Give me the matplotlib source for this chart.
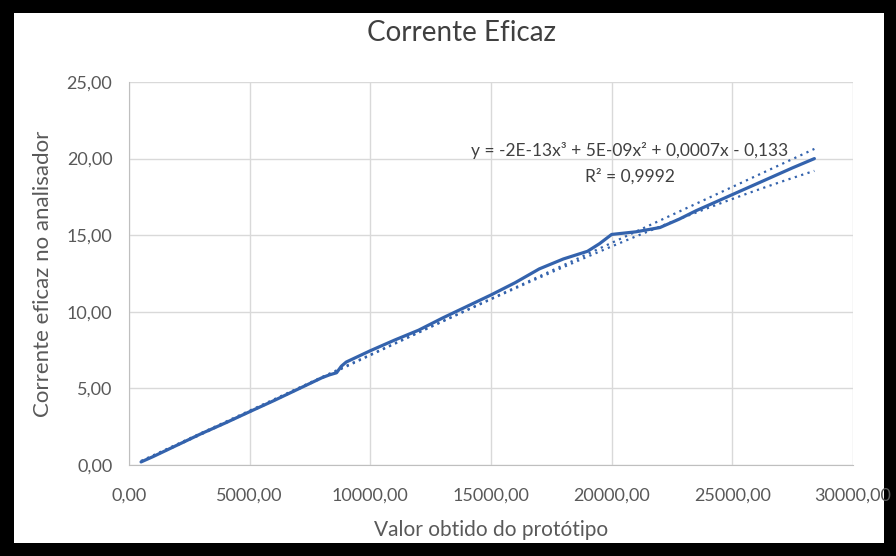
import numpy as np
import matplotlib
matplotlib.use('Agg')
import matplotlib.pyplot as plt
from matplotlib.patches import Rectangle
from matplotlib.ticker import FuncFormatter

# Dados (valor do protótipo x corrente eficaz)
prototipo = [500, 1000, 2000, 3000, 4000, 5000, 6000, 7000, 8000, 8300,
             8600, 8800, 9000, 10000, 11000, 12000, 13000, 14000, 15000,
             16000, 17000, 18000, 19000, 19500, 20000, 21000, 22000, 22800,
             23500, 24500, 25500, 26500, 27500, 28400]
corrente = [0.2, 0.55, 1.3, 2.05, 2.75, 3.48, 4.2, 4.95, 5.7, 5.88,
            6.02, 6.45, 6.72, 7.46, 8.15, 8.8, 9.6, 10.35, 11.1,
            11.9, 12.8, 13.45, 13.95, 14.45, 15.05, 15.22, 15.5, 16.05,
            16.6, 17.3, 18.0, 18.7, 19.4, 20.0]

# Linhas de tendência (coeficientes)
coef_poli = [-2e-13, 5e-09, 0.0007, -0.133]   # polinomial de grau 3 (rótulo)
coef_linear = [0.00073, -0.1]                  # linear

x_ticks = [0, 5000, 10000, 15000, 20000, 25000, 30000]
y_ticks = [0, 5, 10, 15, 20, 25]

AZUL = '#3463ad'
CINZA = '#595959'

plt.rcParams['font.family'] = ['Lato', 'DejaVu Sans']


def virgula(v, pos=None):
    return f"{v:.2f}".replace('.', ',')


def main():
    fig = plt.figure(figsize=(8.96, 5.56), dpi=100, facecolor='black')
    # fundo branco dentro da moldura preta
    fig.patches.append(Rectangle((14 / 896, 13 / 556), 870 / 896, 530 / 556,
                                 transform=fig.transFigure, facecolor='white',
                                 edgecolor='none', zorder=-10))
    ax = fig.add_axes([129 / 896, 1 - 465 / 556, 724 / 896, 383 / 556])

    xs = np.linspace(prototipo[0], prototipo[-1], 200)
    ax.plot(xs, np.polyval(coef_linear, xs), color=AZUL, linestyle=(0, (1, 2)),
            linewidth=1.6)
    ax.plot(xs, np.polyval(coef_poli, xs), color=AZUL, linestyle=(0, (1, 2)),
            linewidth=1.6)
    ax.plot(prototipo, corrente, color=AZUL, linewidth=2.3, solid_capstyle='round')

    ax.set_xlim(0, 30000)
    ax.set_ylim(0, 25)
    ax.set_xticks(x_ticks)
    ax.set_yticks(y_ticks)
    ax.xaxis.set_major_formatter(FuncFormatter(virgula))
    ax.yaxis.set_major_formatter(FuncFormatter(virgula))
    ax.tick_params(length=0, labelsize=13, colors=CINZA)
    ax.tick_params(axis='x', pad=16)
    ax.tick_params(axis='y', pad=12)
    ax.grid(True, color='#d9d9d9', linewidth=1)
    ax.set_axisbelow(True)
    for lado in ['top', 'right']:
        ax.spines[lado].set_visible(False)
    for lado in ['left', 'bottom']:
        ax.spines[lado].set_color('#bfbfbf')

    ax.set_xlabel('Valor obtido do protótipo', fontsize=15, color=CINZA, labelpad=12)
    ax.set_ylabel('Corrente eficaz no analisador', fontsize=16, color=CINZA, labelpad=10)

    ax.text(20760, 19.7, 'y = -2E-13x³ + 5E-09x² + 0,0007x - 0,133\nR² = 0,9992',
            ha='center', va='center', fontsize=12.5, color='#404040', linespacing=1.7)

    fig.text(461 / 896, 1 - 33 / 556, 'Corrente Eficaz', ha='center', va='center',
             fontsize=20, color='#404040')

    fig.savefig('out.png', dpi=100, facecolor='black')


if __name__ == '__main__':
    main()
